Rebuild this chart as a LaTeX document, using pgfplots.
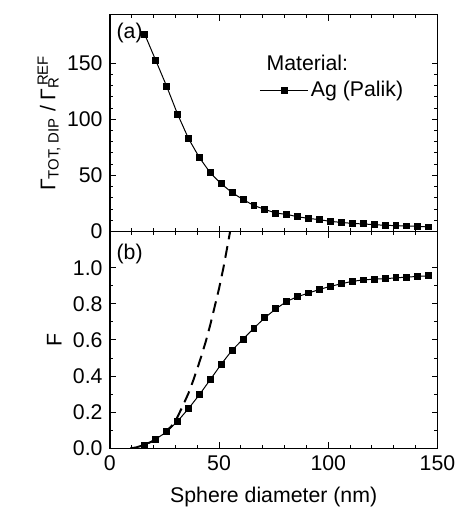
\documentclass[border=0pt]{standalone}
\usepackage{fontspec}
\setmainfont{Liberation Sans}
\usepackage{pgfplots}
\pgfplotsset{compat=1.18}
\begin{document}
\fontsize{21.5}{26}\selectfont
\begin{tikzpicture}
\pgfplotsset{
  myax/.style={
    scale only axis, width=331pt, height=219pt,
    xmin=0, xmax=150,
    xtick={0,50,100,150}, minor x tick num=4,
    tick align=inside, tick pos=both,
    major tick length=6pt, minor tick length=3.5pt,
    axis line style={line width=1.3pt},
    every tick/.style={line width=1pt, black},
    /pgf/number format/assume math mode=true,
  },
  dat/.style={black, line width=1pt, mark=square*, mark size=3pt, mark options={solid}},
}
% bottom panel
\begin{axis}[myax, at={(0pt,0pt)}, anchor=south west,
  ymin=0, ymax=1.2,
  ytick={0,0.2,0.4,0.6,0.8,1.0}, minor y tick num=1,
  yticklabel style={/pgf/number format/fixed, /pgf/number format/fixed zerofill, /pgf/number format/precision=1},
  xlabel={Sphere diameter (nm)}, ylabel={F},
  xlabel style={yshift=-2pt},
  ylabel style={yshift=-3pt},
]
\addplot[black, line width=2pt, dash pattern=on 12pt off 7pt] coordinates {
(9.3,0) (12,0.005) (16,0.02) (20,0.042) (24,0.075) (28,0.12) (30,0.15) (33,0.225)
(36,0.305) (38,0.37) (40,0.44) (42,0.515) (44,0.595) (46,0.685) (48,0.785)
(50,0.885) (52,1.0) (54,1.13) (55.2,1.21)};
\addplot[dat] coordinates {
(16,0.018) (21,0.051) (26,0.091) (31,0.150) (36,0.220) (41,0.297) (46,0.381)
(51,0.466) (56,0.544) (61,0.605) (66,0.666) (71,0.724) (76,0.772) (81,0.814)
(86,0.840) (91,0.860) (96,0.880) (101,0.897) (106,0.911) (111,0.925) (116,0.932)
(121,0.937) (126,0.939) (131,0.944) (136,0.948) (141,0.952) (146,0.955)};
\node[anchor=west, inner sep=0pt] at (rel axis cs:0.02,0.896) {(b)};
\end{axis}
% top panel
\begin{axis}[myax, at={(0pt,219pt)}, anchor=south west,
  ymin=0, ymax=193,
  ytick={0,50,100,150}, minor y tick num=4,
  xticklabels={},
  ylabel={Γ\textsubscript{TOT, DIP} / Γ\rlap{\textsubscript{R}}\textsuperscript{\,REF}},
  ylabel style={yshift=-8pt},
  legend style={at={(rel axis cs:0.456,0.65)}, anchor=west, draw=none, fill=none, inner sep=0pt, row sep=0pt},
  legend cell align=left,
  legend image code/.code={\draw[mark repeat=2,mark phase=2,#1] plot coordinates {(0pt,0pt) (24.5pt,0pt) (49pt,0pt)};},
]
\addplot[dat] coordinates {
(16,175.5) (21,152.5) (26,129.4) (31,104.6) (36,82.9) (41,65.9) (46,52.3)
(51,42.5) (56,34.7) (61,28.5) (66,23.2) (71,19.7) (76,16.5) (81,15.3)
(86,13.2) (91,11.8) (96,10.6) (101,9.1) (106,8.2) (111,7.3) (116,6.8)
(121,6.2) (126,5.6) (131,5.3) (136,5.0) (141,4.7) (146,4.1)};
\addlegendentry{Ag (Palik)}
\node[anchor=base west] at (rel axis cs:0.456,0.741) {Material:};
\node[anchor=west, inner sep=0pt] at (rel axis cs:0.02,0.918) {(a)};
\end{axis}
\path (-111pt,-61pt) rectangle (350pt,453pt);
\end{tikzpicture}
\end{document}
